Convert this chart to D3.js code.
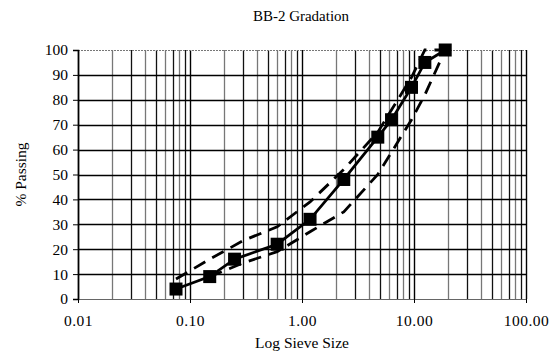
<!DOCTYPE html>
<html>
<head>
<meta charset="utf-8">
<script src="https://cdn.jsdelivr.net/npm/d3@7"></script>
<style>
  body { margin: 0; background: #fff; }
  text { font-family: "Liberation Serif", "DejaVu Serif", serif; fill: #000; }
</style>
</head>
<body>
<div id="chart"></div>
<script>
// sieve sizes (mm) and % passing
const sieves = [0.075, 0.15, 0.25, 0.6, 1.18, 2.36, 4.75, 6.3, 9.5, 12.5, 19];
const passing = [4, 9, 16, 22, 32, 48, 65, 72, 85, 95, 100];

// band limits (dashed)
const upperSieves = [0.075, 0.15, 0.3, 0.6, 1.18, 2.36, 4.75, 9.5, 12.5, 19];
const upperLimit = [8, 16, 23.5, 29, 39, 52, 67, 89, 100, 100];
const lowerSieves = [0.15, 0.3, 0.6, 1.18, 2.36, 4.75, 9.5, 12.5, 19];
const lowerLimit = [9, 14.5, 19, 27, 35, 50, 72, 82, 100];

const xTicks = [0.01, 0.1, 1, 10, 100];
const yTicks = [0, 10, 20, 30, 40, 50, 60, 70, 80, 90, 100];

const W = 558, H = 353;
const margin = {top: 50, right: 32, bottom: 54, left: 78};
const width = W - margin.left - margin.right;
const height = H - margin.top - margin.bottom;

const svg = d3.select("#chart").append("svg")
    .attr("width", W)
    .attr("height", H);

const g = svg.append("g")
    .attr("transform", "translate(" + margin.left + "," + margin.top + ")");

const x = d3.scaleLog().domain([0.01, 100]).range([0, width]);
const y = d3.scaleLinear().domain([0, 100]).range([height, 0]);

// minor vertical gridlines (2..9 in each decade)
let minor = [];
for (let d = 0.01; d < 100; d *= 10) {
    for (let k = 2; k <= 9; k++) minor.push(+(d * k).toPrecision(3));
}
g.selectAll(".vminor")
    .data(minor)
    .enter()
    .append("line")
        .attr("x1", d => Math.round(x(d)) + 0.5)
        .attr("x2", d => Math.round(x(d)) + 0.5)
        .attr("y1", 0)
        .attr("y2", height)
        .style("stroke", (d, i) => i % 2 ? "#111" : "#777")
        .style("stroke-width", 1.3);

// major vertical gridlines
g.selectAll(".vmajor")
    .data(xTicks)
    .enter()
    .append("line")
        .attr("x1", d => Math.round(x(d)) + 0.5)
        .attr("x2", d => Math.round(x(d)) + 0.5)
        .attr("y1", 0)
        .attr("y2", height)
        .style("stroke", "#000")
        .style("stroke-width", 1.4);

// horizontal gridlines
g.selectAll(".hgrid")
    .data(yTicks.slice(1, -1))
    .enter()
    .append("line")
        .attr("x1", 0)
        .attr("x2", width)
        .attr("y1", d => Math.round(y(d)) + 0.5)
        .attr("y2", d => Math.round(y(d)) + 0.5)
        .style("stroke", "#000")
        .style("stroke-width", 1.3);

// top border dotted, bottom border grey
g.append("line")
    .attr("x1", 0).attr("x2", width)
    .attr("y1", 0.5).attr("y2", 0.5)
    .style("stroke", "#777")
    .style("stroke-dasharray", "2,1");
g.append("line")
    .attr("x1", 0).attr("x2", width)
    .attr("y1", height + 0.5).attr("y2", height + 0.5)
    .style("stroke", "#666")
    .style("stroke-width", 1.2);

// axes
const yAxis = g.append("g")
    .call(d3.axisLeft(y).tickValues(yTicks).tickSize(5).tickPadding(5));
yAxis.select(".domain").style("stroke-width", 1.5);
yAxis.selectAll("text").style("font-size", "15.5px");

const xAxis = g.append("g")
    .attr("transform", "translate(0," + height + ")")
    .call(d3.axisBottom(x).tickValues(xTicks).tickFormat(d3.format(".2f")).tickSize(4).tickPadding(12));
xAxis.select(".domain").remove();
xAxis.selectAll("text").style("font-size", "15.5px").style("letter-spacing", "0.5px");

// dashed limit lines
const line = d3.line()
    .x(d => x(d[0]))
    .y(d => y(d[1]));

[d3.zip(upperSieves, upperLimit), d3.zip(lowerSieves, lowerLimit)].forEach(band => {
    g.append("path")
        .datum(band)
        .attr("d", line)
        .style("fill", "none")
        .style("stroke", "#000")
        .style("stroke-width", 2.8)
        .style("stroke-dasharray", "13,8");
});

// gradation line with square markers
const pts = d3.zip(sieves, passing);
g.append("path")
    .datum(pts)
    .attr("d", line)
    .style("fill", "none")
    .style("stroke", "#000")
    .style("stroke-width", 2.8);

g.selectAll(".sq")
    .data(pts)
    .enter()
    .append("rect")
        .attr("x", d => x(d[0]) - 6.5)
        .attr("y", d => y(d[1]) - 6.5)
        .attr("width", 13)
        .attr("height", 13)
        .style("fill", "#000");

// titles
svg.append("text")
    .attr("x", 301)
    .attr("y", 21)
    .attr("text-anchor", "middle")
    .style("font-size", "15px")
    .text("BB-2 Gradation");

svg.append("text")
    .attr("x", 302)
    .attr("y", 348)
    .attr("text-anchor", "middle")
    .style("font-size", "15.5px")
    .text("Log Sieve Size");

svg.append("text")
    .attr("transform", "translate(26," + (margin.top + height / 2) + ") rotate(-90)")
    .attr("text-anchor", "middle")
    .style("font-size", "15.5px")
    .text("% Passing");
</script>
</body>
</html>
